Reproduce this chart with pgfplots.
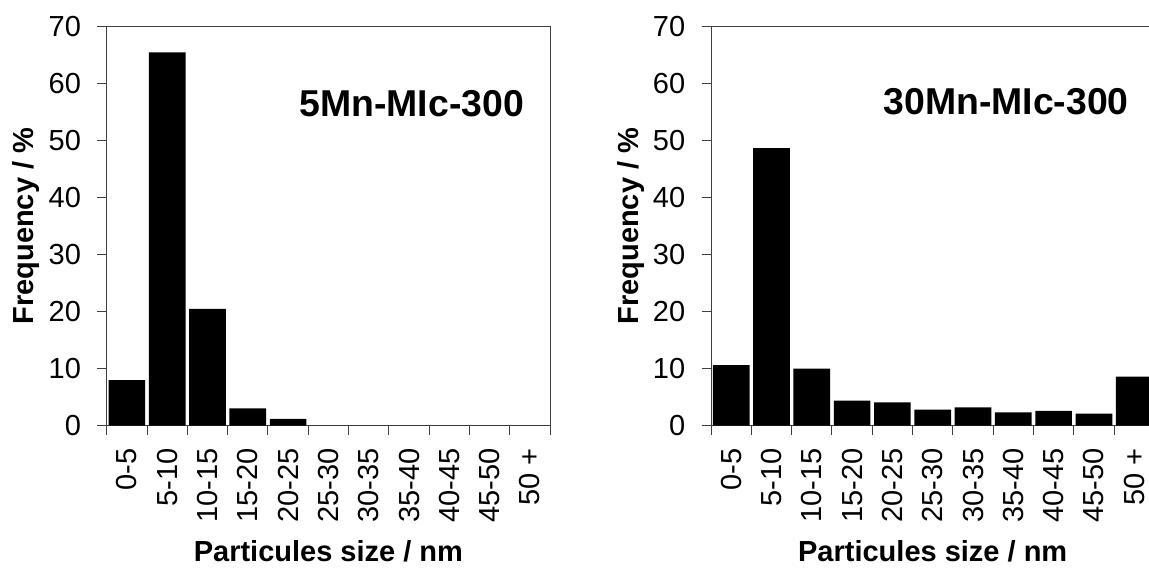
\documentclass[border=0pt]{standalone}
\usepackage{fontspec}
\setmainfont{Liberation Sans}
\usepackage{pgfplots}
\pgfplotsset{compat=1.18}

% Particle size distributions (frequency in % per 5 nm class)
\pgfplotstableread{
pos freq
1  8.0
2  65.5
3  20.5
4  3.05
5  1.2
6  0
7  0
8  0
9  0
10 0
11 0
}\distA

\pgfplotstableread{
pos freq
1  10.65
2  48.7
3  10.0
4  4.4
5  4.1
6  2.8
7  3.2
8  2.35
9  2.6
10 2.1
11 8.6
}\distB

\definecolor{axisgray}{RGB}{64,64,64}

\tikzset{
  sample name/.style={anchor=base west, inner sep=0pt,
    font=\fontsize{18.7}{20}\selectfont\bfseries},
}

\pgfplotsset{
  histo/.style={
    scale only axis,
    width=221.7pt, height=199.5pt,
    anchor=south west,
    xmin=0.5, xmax=11.5,
    ymin=0, ymax=70,
    ytick={0,10,...,70},
    xtick={1,...,11},
    xticklabels={0-5,5-10,10-15,15-20,20-25,25-30,30-35,35-40,40-45,45-50,50 +},
    minor xtick={0.5,1.5,...,11.5},
    major x tick style={draw=none},
    tick align=outside,
    major tick length=4.7pt,
    minor tick length=4.7pt,
    axis line style={draw=axisgray, line width=0.5pt},
    every tick/.style={draw=axisgray, line width=0.5pt},
    ytick pos=left, xtick pos=bottom,
    /pgf/number format/assume math mode=true,
    tick label style={font=\fontsize{14.5}{16}\selectfont},
    yticklabel style={anchor=east, inner sep=0pt, xshift=-8pt},
    % rotated labels: the node's own x axis points up, so xshift moves them down
    xticklabel style={rotate=90, anchor=east, inner sep=0pt, xshift=-6.5pt},
    every axis x label/.style={at={(axis description cs:0.5,-0.3416)}, anchor=base,
      font=\fontsize{14.5}{16}\selectfont\bfseries},
    every axis y label/.style={at={(axis description cs:-0.164,0.5)}, rotate=90, anchor=base,
      font=\fontsize{14.5}{16}\selectfont\bfseries},
    xlabel={Particules size / nm},
    ylabel={Frequency / \%},
    ybar, bar width=0.91,
  },
  histbar/.style={fill=black, draw=none},
}

\begin{document}
\begin{tikzpicture}
\useasboundingbox (0,0) rectangle (574.5pt,284pt);

\begin{axis}[histo, at={(53.35pt,71.15pt)}]
  \addplot[histbar] table[x=pos, y=freq] {\distA};
  \node[sample name] at (axis description cs:0.434,0.774) {5Mn-MIc-300};
\end{axis}

\begin{axis}[histo, at={(355.5pt,71.15pt)}]
  \addplot[histbar] table[x=pos, y=freq] {\distB};
  \node[sample name] at (axis description cs:0.388,0.779) {30Mn-MIc-300};
\end{axis}
\end{tikzpicture}
\end{document}
